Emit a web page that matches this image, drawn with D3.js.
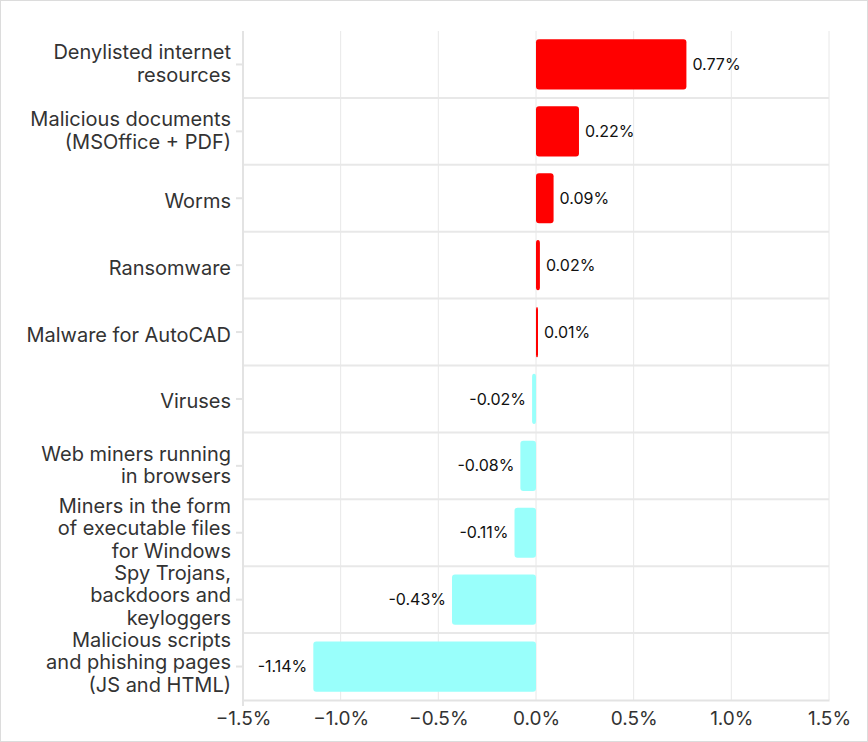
<!DOCTYPE html>
<html>
<head>
<meta charset="utf-8">
<script src="https://cdn.jsdelivr.net/npm/d3@7"></script>
<style>
  body { margin: 0; background: #fff; }
  svg { display: block; }
</style>
</head>
<body>
<div id="chart"></div>
<script>
// categories, one string per label line
var categories = [
  ["Denylisted internet", "resources"],
  ["Malicious documents", "(MSOffice + PDF)"],
  ["Worms"],
  ["Ransomware"],
  ["Malware for AutoCAD"],
  ["Viruses"],
  ["Web miners running", "in browsers"],
  ["Miners in the form", "of executable files", "for Windows"],
  ["Spy Trojans,", "backdoors and", "keyloggers"],
  ["Malicious scripts", "and phishing pages", "(JS and HTML)"]
];
var values = [0.77, 0.22, 0.09, 0.02, 0.01, -0.02, -0.08, -0.11, -0.43, -1.14];
var valueLabels = ["0.77%", "0.22%", "0.09%", "0.02%", "0.01%", "-0.02%", "-0.08%", "-0.11%", "-0.43%", "-1.14%"];
var xTicks = [-1.5, -1.0, -0.5, 0.0, 0.5, 1.0, 1.5];

var width = 868, height = 742;
var margin = {top: 31, right: 39, bottom: 42, left: 243};
var font = "Inter, 'Noto Sans', sans-serif";

var svg = d3.select("#chart").append("svg")
  .attr("width", width)
  .attr("height", height);

// outer frame
svg.append("rect")
  .attr("x", 0.5).attr("y", 0.5)
  .attr("width", width - 1).attr("height", height - 1)
  .attr("fill", "#fff")
  .attr("stroke", "#dcdcdc");

var x = d3.scaleLinear()
  .domain([-1.5, 1.5])
  .range([margin.left, width - margin.right]);

var y = d3.scaleBand()
  .domain(d3.range(categories.length))
  .range([margin.top, height - margin.bottom])
  .paddingInner(0.25)
  .paddingOuter(0.125);

var step = y.step();

// vertical grid
svg.append("g")
  .selectAll("line")
  .data(xTicks)
  .enter()
  .append("line")
  .attr("x1", function(d){ return x(d); })
  .attr("x2", function(d){ return x(d); })
  .attr("y1", margin.top)
  .attr("y2", height - margin.bottom)
  .attr("stroke", "#e8e8e8")
  .attr("stroke-width", 1);

// horizontal separators between bands
svg.append("g")
  .selectAll("line")
  .data(d3.range(1, categories.length))
  .enter()
  .append("line")
  .attr("x1", margin.left)
  .attr("x2", width - margin.right)
  .attr("y1", function(i){ return margin.top + i * step; })
  .attr("y2", function(i){ return margin.top + i * step; })
  .attr("stroke", "#e8e8e8")
  .attr("stroke-width", 2);

// bottom axis
var xAxis = svg.append("g")
  .attr("transform", "translate(0," + (height - margin.bottom) + ")")
  .call(d3.axisBottom(x)
    .tickValues(xTicks)
    .tickSize(0)
    .tickPadding(12)
    .tickFormat(function(d){ return d3.format(".1f")(d) + "%"; }));
xAxis.select(".domain").attr("stroke", "#e3e3e3").attr("stroke-width", 2);
xAxis.selectAll("text")
  .attr("font-family", font)
  .attr("font-size", 19)
  .attr("fill", "#333");

// left axis line + ticks
svg.append("line")
  .attr("x1", margin.left).attr("x2", margin.left)
  .attr("y1", margin.top).attr("y2", height - margin.bottom + 6)
  .attr("stroke", "#e3e3e3")
  .attr("stroke-width", 2);

var yTicks = svg.append("g")
  .selectAll("g")
  .data(categories)
  .enter()
  .append("g")
  .attr("transform", function(d, i){ return "translate(0," + (y(i) + y.bandwidth() / 2) + ")"; });

yTicks.append("line")
  .attr("x1", margin.left - 7).attr("x2", margin.left)
  .attr("stroke", "#e3e3e3")
  .attr("stroke-width", 2);

// multi-line labels sit a little above the tick, like the original
var lineH = 22.5;
yTicks.append("text")
  .attr("text-anchor", "end")
  .attr("font-family", font)
  .attr("font-size", 20)
  .attr("fill", "#333")
  .selectAll("tspan")
  .data(function(d){ return d.map(function(t, k){ return {t: t, k: k, n: d.length}; }); })
  .enter()
  .append("tspan")
  .attr("x", margin.left - 12)
  .attr("y", function(d){ return (d.k - (d.n - 1) / 2) * lineH - (d.n - 1) * 3.5 + 2.5; })
  .attr("dy", "0.35em")
  .text(function(d){ return d.t; });

// bars
svg.append("g")
  .selectAll("rect")
  .data(values)
  .enter()
  .append("rect")
  .attr("x", function(d){ return Math.min(x(0), x(d)); })
  .attr("y", function(d, i){ return y(i); })
  .attr("width", function(d){ return Math.max(2, Math.abs(x(d) - x(0))); })
  .attr("height", y.bandwidth())
  .attr("rx", 3)
  .attr("fill", function(d){ return d >= 0 ? "#ff0000" : "#99fffb"; });

// value labels
svg.append("g")
  .selectAll("text")
  .data(values)
  .enter()
  .append("text")
  .attr("x", function(d){ return d >= 0 ? Math.max(x(d), x(0) + 2) + 6 : x(d) - 6; })
  .attr("y", function(d, i){ return y(i) + y.bandwidth() / 2; })
  .attr("dy", "0.35em")
  .attr("text-anchor", function(d){ return d >= 0 ? "start" : "end"; })
  .attr("font-family", font)
  .attr("font-size", 16)
  .attr("fill", "#111")
  .text(function(d, i){ return valueLabels[i]; });
</script>
</body>
</html>
